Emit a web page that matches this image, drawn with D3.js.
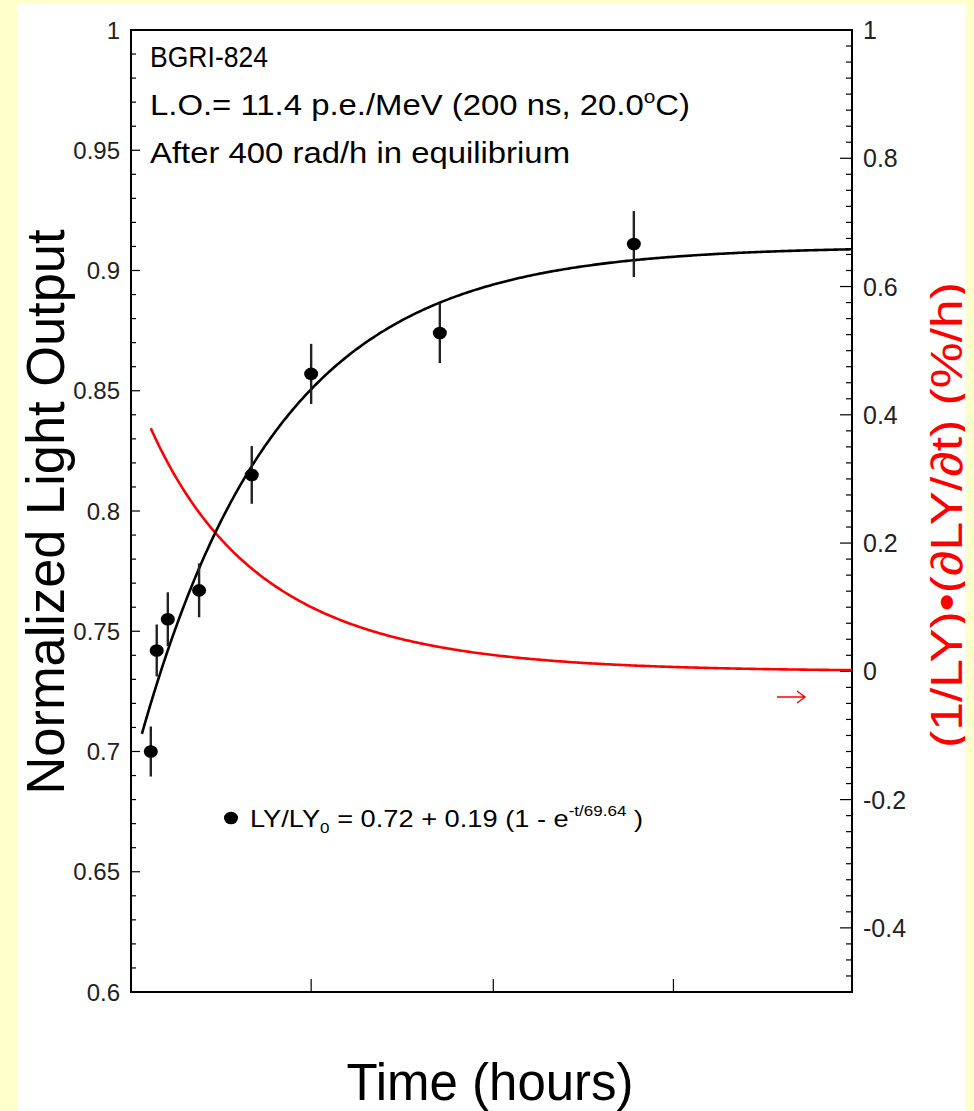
<!DOCTYPE html>
<html>
<head>
<meta charset="utf-8">
<script src="https://cdn.jsdelivr.net/npm/d3@7"></script>
<style>
  html, body { margin: 0; padding: 0; background: #ffffcc; }
  svg { display: block; font-family: "Liberation Sans", Arial, Helvetica, sans-serif; }
</style>
</head>
<body>
<svg id="chart" width="974" height="1111"></svg>
<script>
// Measurements: time after irradiation stop (hours), normalized LY and errors
const timeHours = [0, 3.0, 8.6, 24.4, 51, 81, 146, 244];
const lightOutput = [0.700, 0.742, 0.755, 0.767, 0.815, 0.857, 0.874, 0.911];
const lightOutputErr = [0.0104, 0.0108, 0.0112, 0.0112, 0.0120, 0.0125, 0.0125, 0.0137];

// Fit: LY/LY0 = p0 + p1 (1 - exp(-t/tau))
const fitOffset = 0.72;
const fitAmplitude = 0.19;
const fitTau = 69.64;
const fitStart = -4.5;

// Axis ticks
const leftTicks = [0.6, 0.65, 0.7, 0.75, 0.8, 0.85, 0.9, 0.95, 1];
const rightTicks = [-0.4, -0.2, 0, 0.2, 0.4, 0.6, 0.8, 1];
const timeTicks = [81, 173, 264];

const svg = d3.select("#chart");
const W = 974, H = 1111;
const frame = { left: 131, right: 852, top: 30, bottom: 992 };

// panel
svg.append("rect").attr("x", 0).attr("y", 0).attr("width", W).attr("height", H).attr("fill", "#ffffcc");
svg.append("rect").attr("x", 17).attr("y", 4).attr("width", 948).attr("height", H - 4).attr("fill", "#ffffff");

const x = d3.scaleLinear().domain([-10, 354.2]).range([frame.left, frame.right]);
const yL = d3.scaleLinear().domain([0.6, 1]).range([frame.bottom, frame.top]);
const yR = d3.scaleLinear().domain([-0.5, 1]).range([frame.bottom, frame.top]);

const fmt = v => String(+v.toFixed(3));

// left axis: ticks pointing into the frame
const leftMinor = d3.range(0.6, 1.0001, 0.01).map(v => +v.toFixed(3));
const gL = svg.append("g");
gL.selectAll("line.minor").data(leftMinor).join("line")
  .attr("x1", frame.left).attr("x2", d => frame.left + (leftTicks.some(t => Math.abs(t - d) < 1e-6) ? 9 : 5))
  .attr("y1", d => yL(d)).attr("y2", d => yL(d))
  .attr("stroke", "#000").attr("stroke-width", 1.2);
gL.selectAll("text").data(leftTicks).join("text")
  .attr("x", 120).attr("y", d => yL(d)).attr("dy", "0.36em")
  .attr("text-anchor", "end").attr("font-size", 24).attr("fill", "#222")
  .text(fmt);

// right axis
const rightMinor = d3.range(-0.5, 1.0001, 0.025).map(v => +v.toFixed(4));
const gR = svg.append("g");
gR.selectAll("line").data(rightMinor).join("line")
  .attr("x1", frame.right).attr("x2", d => frame.right - (rightTicks.concat([-0.5]).some(t => Math.abs(t - d) < 1e-6) ? 12 : 6))
  .attr("y1", d => yR(d)).attr("y2", d => yR(d))
  .attr("stroke", "#000").attr("stroke-width", 1.2);
gR.selectAll("text").data(rightTicks).join("text")
  .attr("x", 863).attr("y", d => yR(d)).attr("dy", "0.36em")
  .attr("text-anchor", "start").attr("font-size", 25).attr("fill", "#222")
  .text(fmt);

// bottom axis ticks
svg.append("g").selectAll("line").data(timeTicks).join("line")
  .attr("x1", d => x(d)).attr("x2", d => x(d))
  .attr("y1", frame.bottom).attr("y2", frame.bottom - 13)
  .attr("stroke", "#000").attr("stroke-width", 1.2);

// frame
svg.append("rect")
  .attr("x", frame.left).attr("y", frame.top)
  .attr("width", frame.right - frame.left).attr("height", frame.bottom - frame.top)
  .attr("fill", "none").attr("stroke", "#000").attr("stroke-width", 2);

// curves from the fit parameters
const fitLY = t => fitOffset + fitAmplitude * (1 - Math.exp(-t / fitTau));
const relRate = t => 100 * (fitAmplitude / fitTau) * Math.exp(-t / fitTau) / fitLY(t);
const tEnd = x.domain()[1];
const fitT = d3.range(fitStart, tEnd, 1).concat([tEnd]);
const rateT = d3.range(0, tEnd, 1).concat([tEnd]);

svg.append("path")
  .attr("d", d3.line().x(t => x(t)).y(t => yR(relRate(t)))(rateT))
  .attr("fill", "none").attr("stroke", "#ff0000").attr("stroke-width", 2.6);

svg.append("path")
  .attr("d", d3.line().x(t => x(t)).y(t => yL(fitLY(t)))(fitT))
  .attr("fill", "none").attr("stroke", "#000").attr("stroke-width", 2.6);

// data points with error bars
const pts = timeHours.map((t, i) => ({ t, v: lightOutput[i], e: lightOutputErr[i] }));
svg.append("g").selectAll("line").data(pts).join("line")
  .attr("x1", d => x(d.t)).attr("x2", d => x(d.t))
  .attr("y1", d => yL(d.v - d.e)).attr("y2", d => yL(d.v + d.e))
  .attr("stroke", "#222").attr("stroke-width", 2.4);
svg.append("g").selectAll("ellipse").data(pts).join("ellipse")
  .attr("cx", d => x(d.t)).attr("cy", d => yL(d.v))
  .attr("rx", 7).attr("ry", 6.3).attr("fill", "#000");

// annotation text
const info = svg.append("g").attr("font-size", 30).attr("fill", "#000");
info.append("text").attr("x", 150).attr("y", 67).attr("textLength", 118).attr("lengthAdjust", "spacingAndGlyphs").text("BGRI-824");
const lo = info.append("text").attr("x", 150).attr("y", 115).attr("textLength", 540).attr("lengthAdjust", "spacingAndGlyphs");
lo.append("tspan").text("L.O.= 11.4 p.e./MeV (200 ns, 20.0");
lo.append("tspan").attr("font-size", 19).attr("dy", -12).text("o");
lo.append("tspan").attr("dy", 12).text("C)");
info.append("text").attr("x", 150).attr("y", 163).attr("textLength", 420).attr("lengthAdjust", "spacingAndGlyphs").text("After 400 rad/h in equilibrium");

// legend
svg.append("ellipse").attr("cx", 231).attr("cy", 818).attr("rx", 7).attr("ry", 6.3).attr("fill", "#000");
const leg = svg.append("text").attr("x", 250).attr("y", 827).attr("font-size", 24).attr("fill", "#000")
  .attr("textLength", 393).attr("lengthAdjust", "spacingAndGlyphs");
leg.append("tspan").text("LY/LY");
leg.append("tspan").attr("font-size", 15).attr("dy", 6).text("0");
leg.append("tspan").attr("dy", -6).text(" = 0.72 + 0.19 (1 - e");
leg.append("tspan").attr("font-size", 15).attr("dy", -11).text("-t/69.64");
leg.append("tspan").attr("dy", 11).text(" )");

// arrow pointing at the right-hand axis
const ay = 697;
svg.append("path")
  .attr("d", `M777,${ay}L805,${ay}M797,${ay - 6}L805,${ay}L797,${ay + 6}`)
  .attr("fill", "none").attr("stroke", "#ff0000").attr("stroke-width", 1.4);

// axis titles
svg.append("text")
  .attr("transform", "translate(64,512) rotate(-90)")
  .attr("text-anchor", "middle").attr("font-size", 54).attr("fill", "#000")
  .attr("textLength", 565).attr("lengthAdjust", "spacingAndGlyphs")
  .text("Normalized Light Output");

svg.append("text")
  .attr("transform", "translate(962,515) rotate(-90)")
  .attr("text-anchor", "middle").attr("font-size", 44).attr("fill", "#ff0000")
  .attr("textLength", 466).attr("lengthAdjust", "spacingAndGlyphs")
  .text("(1/LY)\u2022(\u2202LY/\u2202t) (%/h)");

svg.append("text")
  .attr("x", 490).attr("y", 1100)
  .attr("text-anchor", "middle").attr("font-size", 51).attr("fill", "#000")
  .text("Time (hours)");

// yellow margin on the right edge
svg.append("rect").attr("x", 965).attr("y", 0).attr("width", W - 965).attr("height", H).attr("fill", "#ffffcc");
</script>
</body>
</html>
